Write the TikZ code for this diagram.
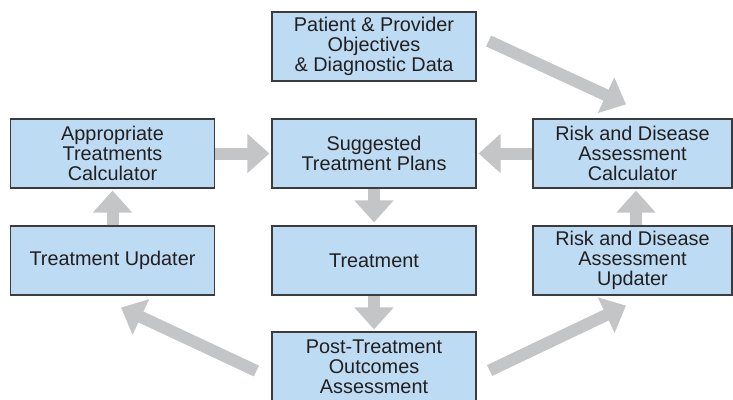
\documentclass[tikz,border=0pt]{standalone}
\usepackage{fontspec}
\setmainfont{Liberation Sans}
\usetikzlibrary{arrows.meta,calc}
\definecolor{boxblue}{RGB}{189,220,243}
\definecolor{boxline}{RGB}{60,60,60}
\definecolor{flowgray}{RGB}{196,197,199}
\definecolor{txtgray}{RGB}{35,31,32}
\tikzset{
	stage/.style={draw=boxline,line width=0.7pt,fill=boxblue,text=txtgray,minimum width=4.08cm,minimum height=1.38cm,align=center,inner sep=0pt,font=\fontsize{11.3}{11.4}\selectfont},
	flow/.style={draw=flowgray,line width=0.24cm,-{Triangle[length=0.44cm,width=0.76cm]}},
}
\begin{document}
\begin{tikzpicture}[x=0.02cm,y=-0.02cm]
	\clip (0,0) rectangle (733,399);
	\node[stage] (pat) at (374,46.5) {Patient \& Provider\\Objectives\\\& Diagnostic Data}; % inputs
	\node[stage] (app) at (112.5,153.5) {Appropriate\\Treatments\\Calculator};
	\node[stage] (sug) at (374,153.5) {Suggested\\Treatment Plans};
	\node[stage,minimum width=3.98cm] (rcal) at (632.5,153.5) {Risk and Disease\\Assessment\\Calculator};
	\node[stage] (tupd) at (112.5,260.5) {Treatment Updater};
	\node[stage] (trt) at (374,260.5) {Treatment};
	\node[stage,minimum width=3.98cm] (rupd) at (632.5,260.5) {Risk and Disease\\Assessment\\Updater};
	\node[stage] (post) at (374,366.5) {Post-Treatment\\Outcomes\\Assessment}; % outcomes
	\draw[flow,shorten >=0.04cm] (app) -- (sug);
	\draw[flow,shorten >=0.04cm] (rcal) -- (sug);
	\draw[flow,shorten >=0.06cm] (sug) -- (trt);
	\draw[flow,shorten >=0.04cm] (trt) -- (post);
	\draw[flow,shorten >=0.04cm] (tupd) -- (app); % update loops
	\draw[flow,shorten >=0.04cm] ($(rupd.north)+(3.5,0)$) -- ($(rcal.south)+(3.5,0)$);
	\draw[flow] ($(pat.east)+(12,-5.5)$) -- ($(rcal.north)+(-6.5,-14)$);
	\draw[flow] ($(post.west)+(-15,4.5)$) -- ($(tupd.south)+(8.5,12)$);
	\draw[flow] ($(post.east)+(13,4)$) -- ($(rupd.south)+(-6.5,10)$);
\end{tikzpicture}
\end{document}
